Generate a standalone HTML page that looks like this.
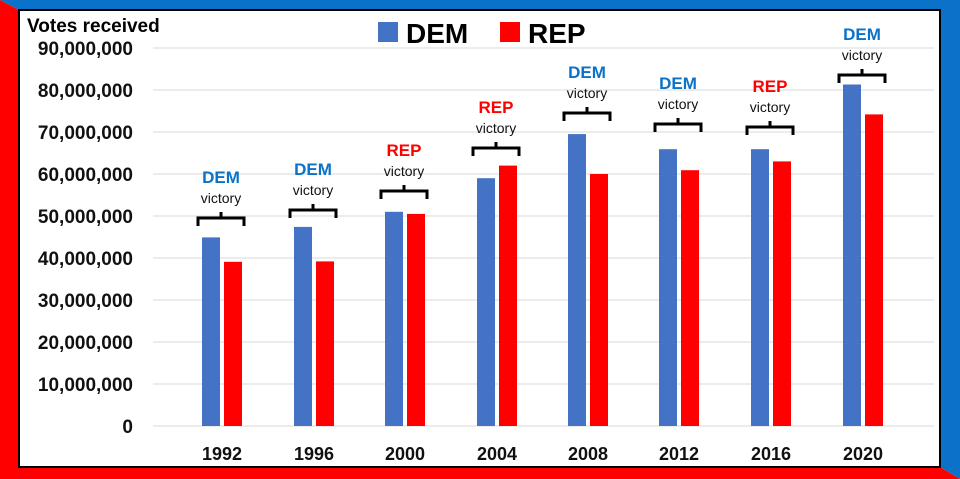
<!DOCTYPE html>
<html><head><style>
html,body{margin:0;padding:0;background:#fff;}
svg{display:block;font-family:"Liberation Sans",Arial,sans-serif;}
</style></head><body>
<svg width="960" height="479" viewBox="0 0 960 479" xmlns="http://www.w3.org/2000/svg">
<rect width="960" height="479" fill="#fff"/>
<polygon points="0,0 960,0 960,479 940,467 940,10 19,10" fill="#0a72c8"/>
<polygon points="0,0 19,10 19,467 940,467 960,479 0,479" fill="#ff0000"/>
<rect x="19" y="10" width="921" height="457" fill="#fff" stroke="#000" stroke-width="2"/>
<text x="27" y="32" font-size="19" font-weight="bold" fill="#000">Votes received</text>
<g stroke="#d9d9d9" stroke-width="1">
<line x1="153" x2="934" y1="48" y2="48"/><line x1="153" x2="934" y1="90" y2="90"/><line x1="153" x2="934" y1="132" y2="132"/><line x1="153" x2="934" y1="174" y2="174"/><line x1="153" x2="934" y1="216" y2="216"/><line x1="153" x2="934" y1="258" y2="258"/><line x1="153" x2="934" y1="300" y2="300"/><line x1="153" x2="934" y1="342" y2="342"/><line x1="153" x2="934" y1="384" y2="384"/><line x1="153" x2="934" y1="426" y2="426"/>
</g>
<g font-size="19" font-weight="bold" fill="#111" text-anchor="end">
<text x="133" y="55">90,000,000</text><text x="133" y="97">80,000,000</text><text x="133" y="139">70,000,000</text><text x="133" y="181">60,000,000</text><text x="133" y="223">50,000,000</text><text x="133" y="265">40,000,000</text><text x="133" y="307">30,000,000</text><text x="133" y="349">20,000,000</text><text x="133" y="391">10,000,000</text><text x="133" y="433">0</text>
</g>
<rect x="378" y="22" width="20" height="20" fill="#4472c4"/>
<text x="406" y="43" font-size="28" font-weight="bold">DEM</text>
<rect x="500" y="22" width="20" height="20" fill="#ff0000"/>
<text x="528" y="43" font-size="28" font-weight="bold">REP</text>
<g id="bars"></g>
<g font-size="18" font-weight="bold" fill="#111" text-anchor="middle">
<text x="222" y="460">1992</text><text x="314" y="460">1996</text><text x="405" y="460">2000</text><text x="497" y="460">2004</text><text x="588" y="460">2008</text><text x="679" y="460">2012</text><text x="771" y="460">2016</text><text x="863" y="460">2020</text>
</g>
<!-- bars: DEM x = c-20, REP x = c+2, width 18, scale 4.2px per 1M -->
<g fill="#4472c4">
<rect x="202" y="237.4" width="18" height="188.6"/>
<rect x="294" y="226.9" width="18" height="199.1"/>
<rect x="385" y="211.8" width="18" height="214.2"/>
<rect x="477" y="178.2" width="18" height="247.8"/>
<rect x="568" y="134.1" width="18" height="291.9"/>
<rect x="659" y="149.2" width="18" height="276.8"/>
<rect x="751" y="149.2" width="18" height="276.8"/>
<rect x="843" y="84.5" width="18" height="341.5"/>
</g>
<g fill="#ff0000">
<rect x="224" y="261.8" width="18" height="164.2"/>
<rect x="316" y="261.4" width="18" height="164.6"/>
<rect x="407" y="213.9" width="18" height="212.1"/>
<rect x="499" y="165.6" width="18" height="260.4"/>
<rect x="590" y="174" width="18" height="252"/>
<rect x="681" y="170.2" width="18" height="255.8"/>
<rect x="773" y="161.4" width="18" height="264.6"/>
<rect x="865" y="114.4" width="18" height="311.6"/>
</g>
<g fill="none" stroke="#000" stroke-width="3">
<path d="M198,226 v-8 h46 v8 M221,218 v-6"/>
<path d="M290,218 v-8 h46 v8 M313,210 v-6"/>
<path d="M381,199 v-8 h46 v8 M404,191 v-6"/>
<path d="M473,156 v-8 h46 v8 M496,148 v-6"/>
<path d="M564,121 v-8 h46 v8 M587,113 v-6"/>
<path d="M655,132 v-8 h46 v8 M678,124 v-6"/>
<path d="M747,135 v-8 h46 v8 M770,127 v-6"/>
<path d="M839,83 v-8 h46 v8 M862,75 v-6"/>
</g>
<g text-anchor="middle">
<g font-size="17" font-weight="bold">
<text x="221" y="183" fill="#0a72c8">DEM</text>
<text x="313" y="175" fill="#0a72c8">DEM</text>
<text x="404" y="156" fill="#ff0000">REP</text>
<text x="496" y="113" fill="#ff0000">REP</text>
<text x="587" y="78" fill="#0a72c8">DEM</text>
<text x="678" y="89" fill="#0a72c8">DEM</text>
<text x="770" y="92" fill="#ff0000">REP</text>
<text x="862" y="40" fill="#0a72c8">DEM</text>
</g>
<g font-size="14" fill="#111">
<text x="221" y="203">victory</text>
<text x="313" y="195">victory</text>
<text x="404" y="176">victory</text>
<text x="496" y="133">victory</text>
<text x="587" y="98">victory</text>
<text x="678" y="109">victory</text>
<text x="770" y="112">victory</text>
<text x="862" y="60">victory</text>
</g>
</g>
</svg>
</body></html>
